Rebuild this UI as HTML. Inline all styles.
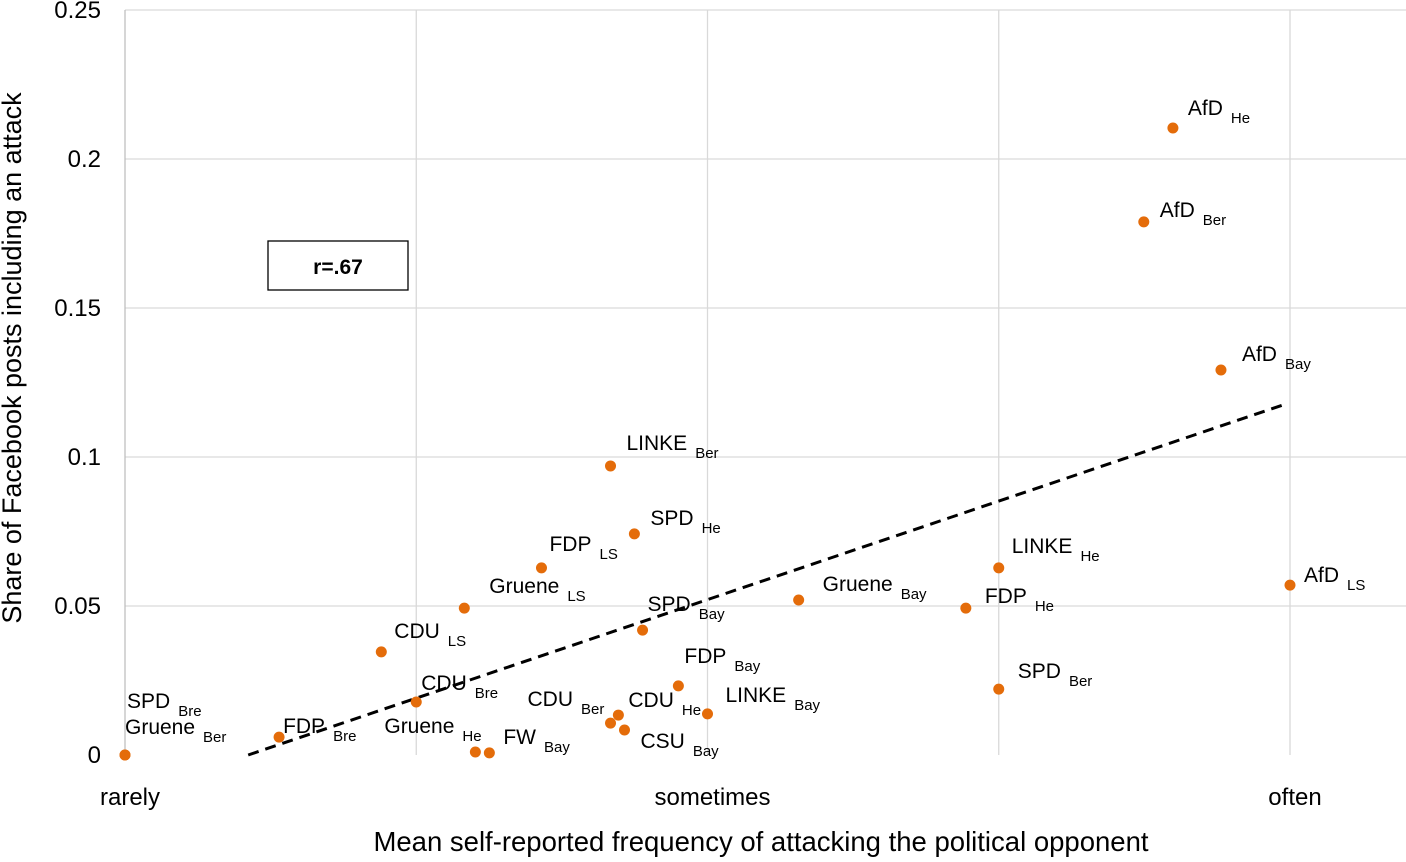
<!DOCTYPE html>
<html><head><meta charset="utf-8"><style>
html,body{margin:0;padding:0;background:#fff;}
svg text{font-family:"Liberation Sans","DejaVu Sans",sans-serif;fill:#000;}
</style></head><body>
<svg id="chart" width="1406" height="857" viewBox="0 0 1406 857" xmlns="http://www.w3.org/2000/svg">
<g id="grid"></g>
<g id="axes"></g>
<g id="trend"></g>
<g id="points"></g>
<g id="labels"></g>
<rect x="268" y="241" width="140" height="49" fill="#fff" stroke="#000" stroke-width="1.3"/>
<text x="338" y="274" text-anchor="middle" font-size="21" font-weight="bold">r=.67</text>
<text x="761" y="851" text-anchor="middle" font-size="27.5">Mean self-reported frequency of attacking the political opponent</text>
<text transform="translate(21,358) rotate(-90)" text-anchor="middle" font-size="27">Share of Facebook posts including an attack</text>
</svg>
<script>
const parties = ["AfD","AfD","AfD","AfD","LINKE","FDP","SPD","Gruene","LINKE","SPD","FDP","Gruene","SPD","CDU","CDU","FDP","LINKE","CDU","CDU","CSU","Gruene","FW","FDP","SPD","Gruene"];
const states = ["He","Ber","Bay","LS","He","He","Ber","Bay","Ber","He","LS","LS","Bay","LS","Bre","Bay","Bay","He","Ber","Bay","He","Bay","Bre","Bre","Ber"];
const xValues = [4.598,4.498,4.763,5.0,4.0,3.887,4.0,3.313,2.667,2.749,2.430,2.165,2.777,1.880,2.0,2.900,3.0,2.694,2.667,2.715,2.203,2.251,1.529,1.0,1.0];
const yValues = [0.2104,0.1789,0.1292,0.057,0.0628,0.0493,0.0221,0.052,0.097,0.0742,0.0628,0.0493,0.0419,0.0346,0.0178,0.0232,0.0138,0.0134,0.0107,0.0084,0.001,0.0007,0.006,0,0];
const labelDx = [15,16,21,14,13,19,19,24,16,16,8,25,5,13,5,6,18,10,-83,16,-91,14,4,2,0];
const labelDy = [-13,-5,-9,-3,-15,-5,-11,-9,-16,-9,-17,-15,-19,-14,-12,-23,-12,-8,-17,18,-19,-9,-4,-47,-21];
const trendX = [1.423,4.986];
const trendY = [0,0.1178];
const yTicks = [0,0.05,0.1,0.15,0.2,0.25];
const yTickLabels = ["0","0.05","0.1","0.15","0.2","0.25"];
const xGrid = [1,2,3,4,5];
const xTickVals = [1,3,5];
const xTickLabels = ["rarely","sometimes","often"];

const NS="http://www.w3.org/2000/svg";
const sx=v=>125+(v-1)*291.25;
const sy=v=>755-v*2980;
function mk(tag,attrs,parent){const e=document.createElementNS(NS,tag);for(const k in attrs)e.setAttribute(k,attrs[k]);parent.appendChild(e);return e;}
const grid=document.getElementById('grid'),axes=document.getElementById('axes'),trend=document.getElementById('trend'),pts=document.getElementById('points'),lbl=document.getElementById('labels');
yTicks.forEach((t,i)=>{
  if(t>0){const l=mk('line',{x1:125,x2:1406,y1:sy(t),y2:sy(t),stroke:'#d9d9d9','stroke-width':1.3},grid);
  
  }
  const tx=mk('text',{x:101,y:sy(t)+8,'text-anchor':'end','font-size':24},axes);tx.textContent=yTickLabels[i];
  
  
});
xGrid.forEach(v=>{
  const l=mk('line',{x1:sx(v),x2:sx(v),y1:10,y2:755,stroke:v===1?'#bfbfbf':'#d9d9d9','stroke-width':1.3},grid);
  
  
});
xTickVals.forEach((v,i)=>{
  const tx=mk('text',{x:sx(v)+5,y:805,'text-anchor':'middle','font-size':24},axes);tx.textContent=xTickLabels[i];
  
  
});
const tl=mk('line',{x1:sx(trendX[0]),y1:sy(trendY[0]),x2:sx(trendX[1]),y2:sy(trendY[1]),stroke:'#000','stroke-width':3,'stroke-dasharray':'11 7'},trend);


xValues.forEach((xv,i)=>{
  const px=sx(xv),py=sy(yValues[i]);
  const c=mk('circle',{cx:px,cy:py,r:5.5,fill:'#e46c0a'},pts);
  
  
  const t=mk('text',{x:px+labelDx[i],y:py+labelDy[i],'font-size':21},lbl);
  
  
  const a=mk('tspan',{},t);a.textContent=parties[i];
  const b=mk('tspan',{dx:8,dy:8,'font-size':15},t);b.textContent=states[i];
});
</script>
</body></html>
